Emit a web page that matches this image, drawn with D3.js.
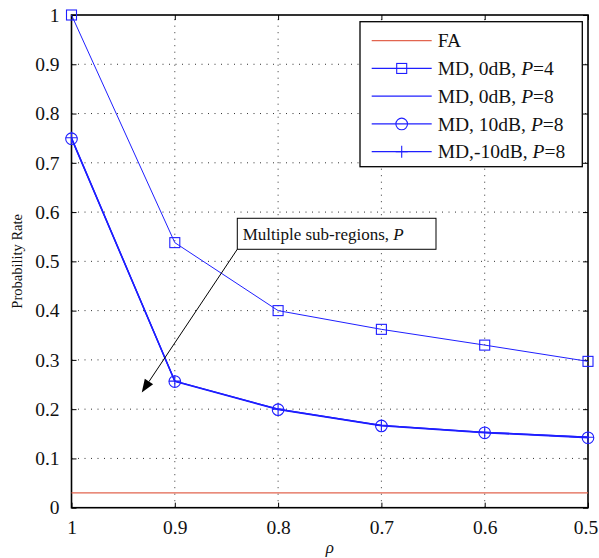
<!DOCTYPE html>
<html>
<head>
<meta charset="utf-8">
<script src="https://cdn.jsdelivr.net/npm/d3@7"></script>
<style>
  html, body { margin: 0; padding: 0; background: #fff; }
  svg { display: block; font-family: "Liberation Serif", "Times New Roman", serif; }
</style>
</head>
<body>
<svg id="chart" width="599" height="558"></svg>
<script>
// Correlation coefficient (x axis, reversed)
const rho = [1, 0.9, 0.8, 0.7, 0.6, 0.5];
// False-alarm rate
const faRate = [0.03, 0.03, 0.03, 0.03, 0.03, 0.03];
// Miss-detection rates
const md0dBP4 = [1.0, 0.538, 0.400, 0.362, 0.330, 0.297];
const md0dBP8 = [0.750, 0.257, 0.200, 0.167, 0.153, 0.143];
const md10dBP8 = [0.749, 0.256, 0.199, 0.166, 0.152, 0.142];
const mdm10dBP8 = [0.751, 0.257, 0.200, 0.167, 0.153, 0.143];

const xTicks = [1, 0.9, 0.8, 0.7, 0.6, 0.5];
const yTicks = [0, 0.1, 0.2, 0.3, 0.4, 0.5, 0.6, 0.7, 0.8, 0.9, 1];

const legendLabels = [
  ["FA", null],
  ["MD, 0dB, ", "=4"],
  ["MD, 0dB, ", "=8"],
  ["MD, 10dB, ", "=8"],
  ["MD,-10dB, ", "=8"]
];

// Annotation: arrow from the label box corner toward the P=8 curves (data units)
const noteFrom = [0.8395, 0.5245];
const noteTo = [0.932, 0.234];

const svg = d3.select("#chart");
const m = { left: 71.5, right: 588, top: 15, bottom: 507.7 };
const serif = '"Liberation Serif", "Times New Roman", serif';

const x = d3.scaleLinear().domain([1, 0.5]).range([m.left, m.right]);
const y = d3.scaleLinear().domain([0, 1]).range([m.bottom, m.top]);

const blue = "#1f1fff";
const red = "#e2654f";

// Grid
const grid = svg.append("g").attr("stroke", "#333").attr("stroke-width", 1)
  .attr("stroke-dasharray", "1,5.5");
xTicks.slice(1, -1).forEach(t => {
  grid.append("line").attr("x1", x(t)).attr("x2", x(t)).attr("y1", m.bottom).attr("y2", m.top);
});
yTicks.slice(1, -1).forEach(t => {
  grid.append("line").attr("x1", m.left).attr("x2", m.right).attr("y1", y(t)).attr("y2", y(t));
});

// Axes (box with inward ticks)
const tickLen = 5;
const axB = svg.append("g").attr("transform", `translate(0,${m.bottom})`)
  .call(d3.axisBottom(x).tickValues(xTicks).tickSizeInner(-tickLen).tickSizeOuter(0)
    .tickPadding(12).tickFormat(d => d3.format("")(d)));
const axT = svg.append("g").attr("transform", `translate(0,${m.top})`)
  .call(d3.axisTop(x).tickValues(xTicks).tickSizeInner(-tickLen).tickSizeOuter(0).tickFormat(""));
const axL = svg.append("g").attr("transform", `translate(${m.left},0)`)
  .call(d3.axisLeft(y).tickValues(yTicks).tickSizeInner(-tickLen).tickSizeOuter(0)
    .tickPadding(12).tickFormat(d => d3.format("")(d)));
const axR = svg.append("g").attr("transform", `translate(${m.right},0)`)
  .call(d3.axisRight(y).tickValues(yTicks).tickSizeInner(-tickLen).tickSizeOuter(0).tickFormat(""));
[axB, axT, axL, axR].forEach(a => {
  a.attr("font-family", null).attr("font-size", null);
  a.select(".domain").remove();
  a.selectAll("line").attr("stroke", "#000").attr("stroke-width", 1);
  a.selectAll("text").attr("fill", "#111").style("font-size", "19.5px")
    .style("font-family", serif);
});
axB.selectAll("text").attr("dy", "0.71em");
// keep the last bottom label inside the page edge
axB.selectAll("text").filter(d => d === 0.5).attr("dx", -2.5);

svg.append("rect").attr("x", m.left).attr("y", m.top)
  .attr("width", m.right - m.left).attr("height", m.bottom - m.top)
  .attr("fill", "none").attr("stroke", "#000").attr("stroke-width", 1.6);

// Axis titles
svg.append("text").attr("x", (m.left + m.right) / 2).attr("y", 553)
  .attr("text-anchor", "middle").style("font-size", "17px").style("font-style", "italic")
  .style("font-family", serif).attr("fill", "#111").text("ρ");
svg.append("text").attr("transform", `translate(22,${(m.top + m.bottom) / 2}) rotate(-90)`)
  .attr("text-anchor", "middle").style("font-size", "14.5px").style("font-family", serif)
  .attr("fill", "#111").text("Probability Rate");

// Series
const line = d3.line().x((d, i) => x(rho[i])).y(d => y(d));
const plot = svg.append("g");

function marker(g, type, cx, cy, color) {
  if (type === "square") {
    g.append("rect").attr("x", cx - 5).attr("y", cy - 5).attr("width", 10).attr("height", 10)
      .attr("fill", "none").attr("stroke", color).attr("stroke-width", 1.1);
  } else if (type === "circle") {
    g.append("circle").attr("cx", cx).attr("cy", cy).attr("r", 5.8)
      .attr("fill", "none").attr("stroke", color).attr("stroke-width", 1.1);
  } else if (type === "plus") {
    g.append("path").attr("d", `M${cx - 6},${cy}H${cx + 6}M${cx},${cy - 6}V${cy + 6}`)
      .attr("stroke", color).attr("stroke-width", 1.1);
  }
}

const series = [
  { values: faRate, color: red, width: 1.4, marker: null },
  { values: md0dBP4, color: blue, width: 1, marker: "square" },
  { values: md0dBP8, color: blue, width: 1.3, marker: null },
  { values: md10dBP8, color: blue, width: 1.3, marker: "circle" },
  { values: mdm10dBP8, color: blue, width: 1.3, marker: "plus" }
];

series.forEach(s => {
  plot.append("path").datum(s.values).attr("d", line)
    .attr("fill", "none").attr("stroke", s.color).attr("stroke-width", s.width);
  if (s.marker) s.values.forEach((v, i) => marker(plot, s.marker, x(rho[i]), y(v), s.color));
});

// Legend
const lg = svg.append("g");
lg.append("rect").attr("x", 360).attr("y", 21.7).attr("width", 222.3).attr("height", 145)
  .attr("fill", "#fff").attr("stroke", "#000").attr("stroke-width", 1.3);
series.forEach((s, i) => {
  const ly = 40.7 + i * 27.75;
  lg.append("line").attr("x1", 371.7).attr("x2", 431.7).attr("y1", ly).attr("y2", ly)
    .attr("stroke", s.color).attr("stroke-width", 1.2);
  if (s.marker) marker(lg, s.marker, 401.7, ly, s.color);
  const t = lg.append("text").attr("x", 437.7).attr("y", ly).attr("dy", "0.34em")
    .style("font-size", "19.5px").style("font-family", serif).attr("fill", "#111");
  t.append("tspan").text(legendLabels[i][0]);
  if (legendLabels[i][1]) {
    t.append("tspan").style("font-style", "italic").text("P");
    t.append("tspan").text(legendLabels[i][1]);
  }
});

// Annotation with arrow
const ax0 = x(noteFrom[0]), ay0 = y(noteFrom[1]);
const ax1 = x(noteTo[0]), ay1 = y(noteTo[1]);
const ang = Math.atan2(ay1 - ay0, ax1 - ax0);
const hl = 13, hw = 5;
const bx = ax1 - hl * Math.cos(ang), by = ay1 - hl * Math.sin(ang);
svg.append("line").attr("x1", ax0).attr("y1", ay0).attr("x2", bx).attr("y2", by)
  .attr("stroke", "#000").attr("stroke-width", 1);
svg.append("path")
  .attr("d", `M${ax1},${ay1}L${bx + hw * Math.sin(ang)},${by - hw * Math.cos(ang)}L${bx - hw * Math.sin(ang)},${by + hw * Math.cos(ang)}Z`)
  .attr("fill", "#000");
svg.append("rect").attr("x", ax0).attr("y", ay0 - 31).attr("width", 198.7).attr("height", 31)
  .attr("fill", "#fff").attr("stroke", "#000").attr("stroke-width", 1);
const nt = svg.append("text").attr("x", ax0 + 5.4).attr("y", ay0 - 15.5).attr("dy", "0.34em")
  .style("font-size", "17px").style("font-family", serif).attr("fill", "#111");
nt.append("tspan").text("Multiple sub-regions, ");
nt.append("tspan").style("font-style", "italic").text("P");
</script>
</body>
</html>
